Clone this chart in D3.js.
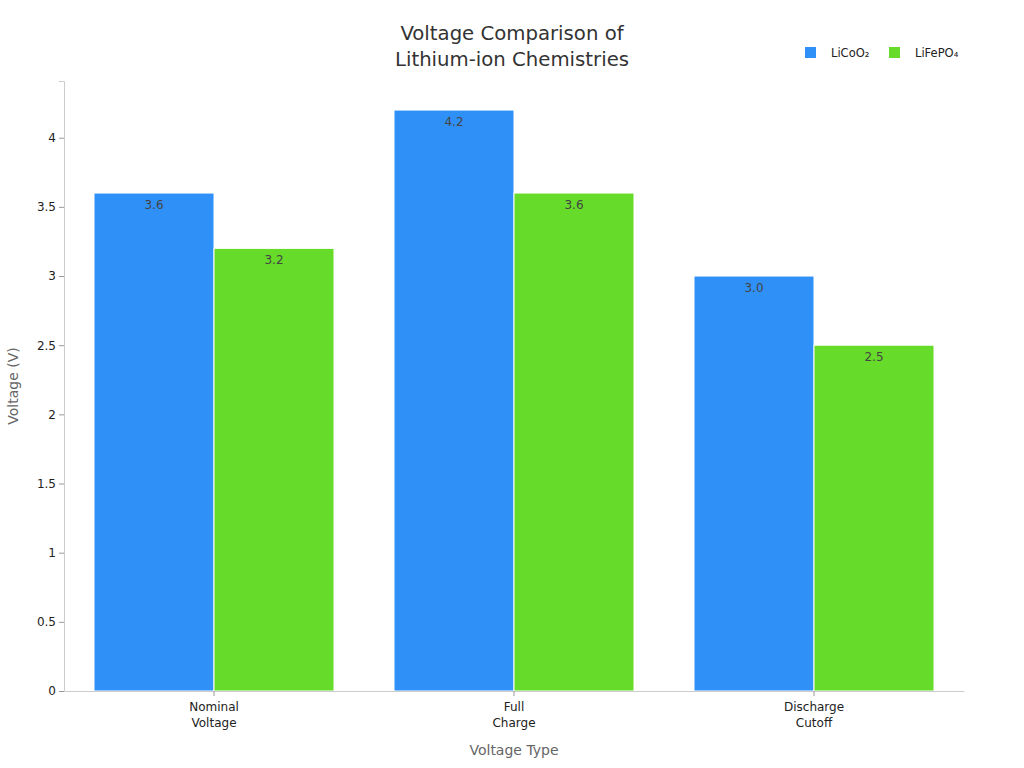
<!DOCTYPE html>
<html>
<head>
<meta charset="utf-8">
<script src="https://cdn.jsdelivr.net/npm/d3@7"></script>
<style>
  body { margin: 0; background: #fff; font-family: "DejaVu Sans", sans-serif; overflow: hidden; }
  svg { display: block; }
</style>
</head>
<body>
<div id="chart"></div>
<script>
var width = 1024
var height = 768

const categories = ["Nominal\nVoltage", "Full\nCharge", "Discharge\nCutoff"]
const seriesNames = ["LiCoO\u2082", "LiFePO\u2084"]
const licoo2 = [3.6, 4.2, 3.0]
const lifepo4 = [3.2, 3.6, 2.5]
const labelText = [["3.6", "4.2", "3.0"], ["3.2", "3.6", "2.5"]]
const yTicks = [0, 0.5, 1, 1.5, 2, 2.5, 3, 3.5, 4]
const colors = ["#2f91f7", "#66db2a"]

var svg = d3.select("#chart").append("svg")
    .attr("width", width)
    .attr("height", height)

const margin = {top: 81, right: 60, bottom: 77, left: 64}
const innerWidth = width - margin.left - margin.right
const innerHeight = height - margin.top - margin.bottom

const xScale = d3.scaleBand()
    .domain(categories)
    .range([0, innerWidth])
    .paddingInner(0.2)
    .paddingOuter(0.1)

const subScale = d3.scaleBand()
    .domain([0, 1])
    .range([0, xScale.bandwidth()])

const yScale = d3.scaleLinear()
    .domain([0, 4.41])
    .range([innerHeight, 0])

const g = svg.append("g")
    .attr("transform", `translate(${margin.left}, ${margin.top})`)

// bars
const series = [licoo2, lifepo4]
series.forEach((vals, si) => {
    g.selectAll(".bar" + si).data(vals)
      .enter().append("rect")
      .attr("x", (d, i) => xScale(categories[i]) + subScale(si))
      .attr("y", d => yScale(d))
      .attr("width", subScale.bandwidth())
      .attr("height", d => innerHeight - yScale(d))
      .attr("fill", colors[si])
      .attr("stroke", "#fff")
      .attr("stroke-width", 1)

    g.selectAll(".lab" + si).data(vals)
      .enter().append("text")
      .attr("x", (d, i) => xScale(categories[i]) + subScale(si) + subScale.bandwidth() / 2)
      .attr("y", d => yScale(d) + 16)
      .attr("text-anchor", "middle")
      .attr("font-size", 12)
      .attr("fill", "#444")
      .text((d, i) => labelText[si][i])
})

// y axis
const yAxis = g.append("g").call(d3.axisLeft(yScale).tickValues(yTicks).tickSize(5).tickFormat(d3.format("")))
yAxis.select(".domain").attr("stroke", "#ccc")
yAxis.selectAll(".tick line").attr("stroke", "#999")
yAxis.selectAll(".tick text").attr("font-size", 12).attr("fill", "#222")
    .attr("font-family", "DejaVu Sans")

// x axis
const xAxis = g.append("g")
    .attr("transform", `translate(0, ${innerHeight})`)
    .call(d3.axisBottom(xScale).tickSize(5).tickSizeOuter(0).tickFormat(""))
xAxis.select(".domain").attr("stroke", "#ccc")
xAxis.selectAll(".tick line").attr("stroke", "#999")
xAxis.selectAll(".tick").each(function(d) {
    const tk = d3.select(this)
    d.split("\n").forEach((line, i) => {
        tk.append("text")
          .attr("x", 0)
          .attr("y", 20 + i * 16)
          .attr("text-anchor", "middle")
          .attr("font-size", 12)
          .attr("font-family", "DejaVu Sans")
          .attr("fill", "#222")
          .text(line)
    })
})

// axis titles
svg.append("text")
    .attr("transform", `translate(18, ${margin.top + innerHeight / 2}) rotate(-90)`)
    .attr("text-anchor", "middle")
    .attr("font-size", 14)
    .attr("fill", "#666")
    .text("Voltage (V)")

svg.append("text")
    .attr("x", margin.left + innerWidth / 2)
    .attr("y", 755)
    .attr("text-anchor", "middle")
    .attr("font-size", 14)
    .attr("fill", "#666")
    .text("Voltage Type")

// title
const title = svg.append("text")
    .attr("x", 512)
    .attr("text-anchor", "middle")
    .attr("font-size", 19.7)
    .attr("fill", "#333")
title.append("tspan").attr("x", 512).attr("y", 40).text("Voltage Comparison of")
title.append("tspan").attr("x", 512).attr("y", 66).text("Lithium-ion Chemistries")

// legend
const legendX = [805, 889]
seriesNames.forEach((name, i) => {
    const lg = svg.append("g").attr("transform", `translate(${legendX[i]}, 47)`)
    lg.append("rect").attr("width", 11).attr("height", 11).attr("fill", colors[i])
    lg.append("text").attr("x", 26).attr("y", 10).attr("font-size", 11.5).attr("fill", "#222").text(name)
})
</script>
</body>
</html>
